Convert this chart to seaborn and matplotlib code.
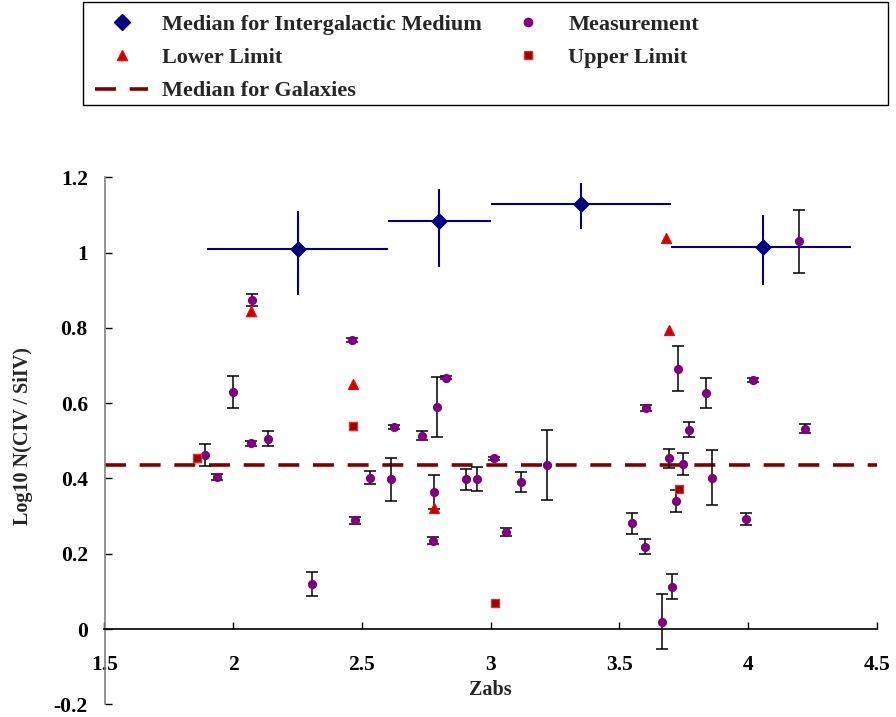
import numpy as np
import pandas as pd
import matplotlib
matplotlib.use("Agg")
import matplotlib.pyplot as plt
import seaborn as sns
from matplotlib.lines import Line2D
from matplotlib.patches import Rectangle

# ---------------- data ----------------
igm_z = [2.25, 2.80, 3.35, 4.06]
igm_val = [1.009, 1.083, 1.130, 1.015]
igm_z_lo = [1.90, 2.60, 3.00, 3.70]
igm_z_hi = [2.60, 3.00, 3.70, 4.40]
igm_err_lo = [0.123, 0.122, 0.068, 0.101]
igm_err_hi = [0.102, 0.086, 0.055, 0.084]

meas_z = [1.890, 1.939, 1.999, 2.068, 2.073, 2.137, 2.308, 2.463, 2.475, 2.531,
          2.612, 2.624, 2.734, 2.776, 2.781, 2.791, 2.826, 2.906, 2.946, 3.014,
          3.061, 3.118, 3.220, 3.550, 3.600, 3.605, 3.665, 3.692, 3.703, 3.720,
          3.727, 3.749, 3.772, 3.835, 3.859, 3.992, 4.019, 4.198, 4.221]
meas_val = [0.462, 0.403, 0.630, 0.493, 0.874, 0.505, 0.120, 0.768, 0.289, 0.402,
            0.398, 0.536, 0.513, 0.235, 0.363, 0.590, 0.668, 0.398, 0.398, 0.453,
            0.258, 0.391, 0.437, 0.281, 0.219, 0.587, 0.019, 0.454, 0.112, 0.340,
            0.692, 0.438, 0.529, 0.626, 0.402, 0.292, 0.661, 1.030, 0.532]
meas_err = [0.030, 0.008, 0.043, 0.006, 0.017, 0.020, 0.031, 0.005, 0.009, 0.017,
            0.057, 0.005, 0.012, 0.010, 0.045, 0.080, 0.005, 0.028, 0.032, 0.005,
            0.010, 0.027, 0.093, 0.028, 0.020, 0.007, 0.073, 0.025, 0.033, 0.030,
            0.060, 0.029, 0.020, 0.040, 0.073, 0.016, 0.006, 0.083, 0.012]

lower_z = [2.069, 2.466, 2.782, 3.683, 3.695]
lower_val = [0.845, 0.651, 0.321, 1.038, 0.795]

upper_z = [1.859, 2.464, 3.019, 3.733]
upper_val = [0.453, 0.540, 0.069, 0.372]

galaxy_median = 0.436

x_ticks = [1.5, 2.0, 2.5, 3.0, 3.5, 4.0, 4.5]
x_ticklabels = ["1.5", "2", "2.5", "3", "3.5", "4", "4.5"]
y_ticks = [-0.2, 0.0, 0.2, 0.4, 0.6, 0.8, 1.0, 1.2]
y_ticklabels = ["-0.2", "0", "0.2", "0.4", "0.6", "0.8", "1", "1.2"]

# ---------------- style ----------------
sns.set_theme(style="white")
plt.rcParams["font.family"] = ["Liberation Serif", "DejaVu Serif"]
plt.rcParams["font.weight"] = "bold"

NAVY = "#000080"
PURPLE = "#800080"
MAROON = "#800000"
DASHES = (5.8, 3.8)

fig = plt.figure(figsize=(8.96, 7.17), dpi=100)
ax = fig.add_axes([104.5 / 896, 1 - 704.3 / 717, 772.2 / 896, 527 / 717])

igm = pd.DataFrame({"z": igm_z, "v": igm_val})
meas = pd.DataFrame({"z": meas_z, "v": meas_val, "e": meas_err})
low = pd.DataFrame({"z": lower_z, "v": lower_val})
up = pd.DataFrame({"z": upper_z, "v": upper_val})

# galaxies median
ax.axhline(galaxy_median, color=MAROON, lw=2.6, dashes=DASHES, zorder=1)

# measurement error bars
ax.errorbar(meas["z"], meas["v"], yerr=meas["e"], fmt="none", ecolor="black",
            elinewidth=1.1, capsize=4, capthick=1.1, zorder=2)

# IGM medians error crosses
xerr = [np.array(igm_z) - np.array(igm_z_lo), np.array(igm_z_hi) - np.array(igm_z)]
ax.errorbar(igm["z"], igm["v"], xerr=xerr, yerr=[igm_err_lo, igm_err_hi],
            fmt="none", ecolor=NAVY, elinewidth=1.5, capsize=0, zorder=2)

sns.scatterplot(data=igm, x="z", y="v", marker="D", s=75, color=NAVY,
                edgecolor=NAVY, linewidth=0, ax=ax, zorder=4, legend=False)
sns.scatterplot(data=meas, x="z", y="v", marker="o", s=44, color=PURPLE,
                edgecolor=PURPLE, linewidth=0, ax=ax, zorder=4, legend=False)
sns.scatterplot(data=low, x="z", y="v", marker="^", s=50, color="#C00000",
                edgecolor="#FF0000", linewidth=1.0, ax=ax, zorder=4, legend=False)
sns.scatterplot(data=up, x="z", y="v", marker="s", s=30, color="#900000",
                edgecolor="#FF2020", linewidth=1.0, ax=ax, zorder=4, legend=False)

ax.set_xlim(1.5, 4.5)
ax.set_ylim(-0.2, 1.2)
ax.set_xticks(x_ticks)
ax.set_xticklabels(x_ticklabels)
ax.set_yticks(y_ticks)
ax.set_yticklabels(y_ticklabels)

for s in ["top", "right"]:
    ax.spines[s].set_visible(False)
ax.spines["bottom"].set_position(("data", 0))
ax.spines["bottom"].set_color("black")
ax.spines["bottom"].set_linewidth(1.2)
ax.spines["left"].set_color("#808080")
ax.spines["left"].set_linewidth(1.2)

ax.tick_params(axis="x", direction="in", length=5, width=1, pad=19,
               labelsize=15.5, bottom=True, colors="black")
ax.tick_params(axis="y", direction="in", length=5, width=1, pad=12,
               labelsize=15.5, left=True, colors="black")
ax.grid(False)

ax.set_xlabel("Zabs", fontsize=14.5, fontweight="bold")
ax.xaxis.set_label_coords((490 - 104.5) / 772.2, (704.3 - 690) / 527)
ax.xaxis.label.set_va("center")
ax.set_ylabel("Log10 N(CIV / SiIV)", fontsize=14.5, fontweight="bold")
ax.yaxis.set_label_coords((23 - 104.5) / 772.2, (704.3 - 436) / 527)
ax.yaxis.label.set_va("center")

# ---------------- legend ----------------
h_igm = Line2D([], [], ls="none", marker="D", color=NAVY, markersize=8)
h_meas = Line2D([], [], ls="none", marker="o", color=PURPLE, markersize=6)
h_low = Line2D([], [], ls="none", marker="^", markerfacecolor="#C00000",
               markeredgecolor="#FF0000", markersize=7)
h_up = Line2D([], [], ls="none", marker="s", markerfacecolor="#900000",
              markeredgecolor="#FF2020", markersize=6)
h_gal = Line2D([], [], color=MAROON, lw=2.6, dashes=DASHES)

prop = dict(family="Liberation Serif", weight="bold", size=16)
common = dict(loc="upper left", frameon=False, prop=prop, handlelength=2.4,
              handletextpad=0.63, labelspacing=0.58, borderpad=0, borderaxespad=0)
leg1 = fig.legend(handles=[h_igm, h_low, h_gal],
                  labels=["Median for Intergalactic Medium", "Lower Limit", "Median for Galaxies"],
                  bbox_to_anchor=(95 / 896, 1 - 14 / 717), **common)
leg2 = fig.legend(handles=[h_meas, h_up], labels=["Measurement", "Upper Limit"],
                  bbox_to_anchor=(501 / 896, 1 - 14 / 717), **common)

fig.patches.append(Rectangle((83 / 896, 1 - 105 / 717), 805 / 896, 103 / 717,
                             transform=fig.transFigure, fill=False,
                             edgecolor="black", lw=1.0))

fig.savefig("out.png", dpi=100)
